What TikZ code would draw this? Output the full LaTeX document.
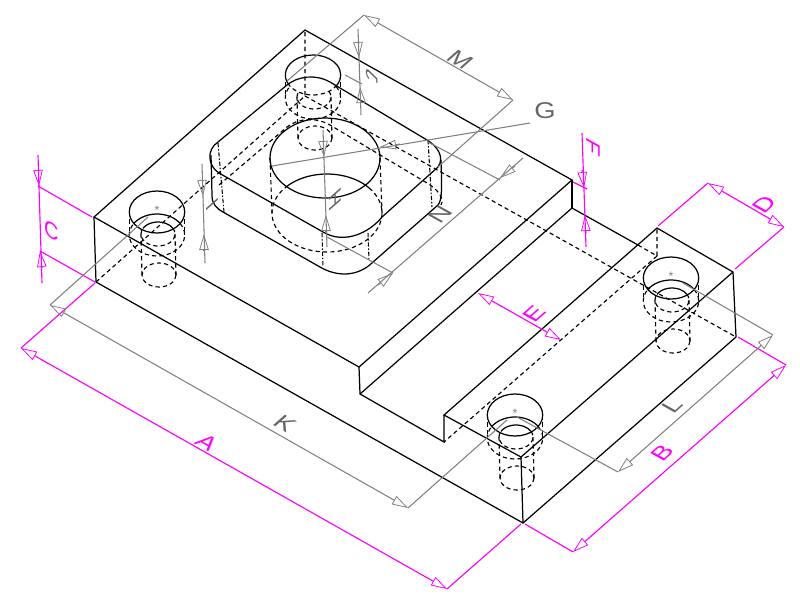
\documentclass[tikz,border=0pt]{standalone}
\usepackage{fontspec}
\setmainfont{Liberation Sans}
\usetikzlibrary{arrows.meta}
\definecolor{dimgrey}{HTML}{808080}
\definecolor{dimpink}{HTML}{FF00FF}
\definecolor{lettergrey}{HTML}{666666}
\tikzset{
  edge/.style={black,line width=0.7pt},
  hidden/.style={black,line width=0.65pt,dash pattern=on 2.4pt off 1.8pt},
  axisline/.style={black,line width=0.6pt,dash pattern=on 2.5pt off 1pt on 0.8pt off 1pt},
  tip/.tip={Triangle[open,length=3.2mm,width=1.9mm,line width=0.45pt]},
  greydim/.style={dimgrey,line width=0.6pt},
  pinkdim/.style={dimpink,line width=0.65pt},
  greyarrow/.style={greydim,-{tip}},
  pinkarrow/.style={pinkdim,-{tip}},
  greytext/.style={text=lettergrey,font=\fontsize{13}{13}\selectfont,inner sep=0pt,transform shape},
  pinktext/.style={text=dimpink,font=\fontsize{13}{13}\selectfont,inner sep=0pt,transform shape},
  planeA/.style={cm={1.0,-0.56,0.75,0.66,(0,0)}},
  planeB/.style={cm={0.85,0.75,-0.87,0.49,(0,0)}},
  planeC/.style={cm={0.87,-0.49,0,1,(0,0)}},
  planeF/.style={cm={0,-1,0.87,-0.49,(0,0)}},
  planeH/.style={cm={0,-1,0.75,0.66,(0,0)}},
  planeJ/.style={cm={0,1,0.72,-0.70,(0,0)}},
  holeshank/.pic={
    \draw[hidden] (-27.7,0) -- (-27.7,23) (27.7,0) -- (27.7,23);
    \draw[hidden] (1,22) ++(-28:17 and 12) arc[start angle=-28,end angle=208,x radius=17,y radius=12];
    \draw[hidden] (0,23) ++(-33:27.7 and 21) arc[start angle=-33,end angle=213,x radius=27.7,y radius=21];
    \draw[hidden] (-16,22) -- (-15,63) (18,22) -- (19,63);
    \draw[hidden] (2,63) ellipse[x radius=17,y radius=12];
  },
  holetop/.pic={
    \draw[edge] (0,0) ellipse[x radius=27.7,y radius=21];
    \draw[edge] (0,23) ++(-147:27.7 and 21) arc[start angle=-147,end angle=-33,x radius=27.7,y radius=21];
    \draw[edge] (1,22) ++(-152:17 and 12) arc[start angle=-152,end angle=-28,x radius=17,y radius=12];
    \node[text=dimgrey,font=\scriptsize,inner sep=0pt] at (0,-2) {*};
  }
}
\begin{document}
\begin{tikzpicture}[x=0.02cm,y=-0.02cm]
  \useasboundingbox (0,0) rectangle (800,600);

  \draw[edge] (305,30) -- (94,217) -- (359,367) -- (572,180) -- cycle;
  \draw[edge] (94,217) -- (96,282) -- (523,523) -- (736,337) -- (733,272) -- (657,228) -- (444,415) -- (521,457) -- (733,272);
  \draw[edge] (521,457) -- (523,523);
  \draw[edge] (359,367) -- (360,394) -- (444,442) -- (444,415);
  \draw[edge] (360,394) -- (572,208) -- (638,245);
  \draw[edge] (572,180) -- (572,208);
  \draw[hidden] (638,245) -- (657,256) -- (657,228);
  \draw[hidden] (657,256) -- (444,442);
  \draw[hidden] (96,282) -- (305,96) -- (305,30);
  \draw[hidden] (305,96) -- (736,337);

  \draw[edge] (218,142) -- (287,85) .. controls (298,76) and (316,74) .. (330,82) -- (427,140) .. controls (437,146) and (445,157) .. (438,167) -- (382,217) .. controls (370,232) and (345,245) .. (323,232) -- (219,173) .. controls (208,166) and (206,150) .. (218,142) -- cycle;
  \draw[edge] (211,155) -- (212,195) .. controls (212,204) and (216,208) .. (223,212) -- (320,267) .. controls (337,277) and (358,277) .. (373,262) -- (438,205) .. controls (442,200) and (442,190) .. (441,160);
  \draw[hidden] (219,185) -- (287,127) .. controls (298,118) and (316,117) .. (330,125) -- (427,183) .. controls (437,189) and (445,198) .. (441,205);
  \draw[axisline] (218,143) -- (224,212);
  \draw[axisline] (428,140) -- (432,207);
  \draw[axisline] (322,233) -- (323,267);
  \draw[axisline] (368,233) -- (369,260);

  \draw[edge] (325,158) ellipse[x radius=55,y radius=40];
  \draw[edge] (327,213) ++(-140:55 and 39) arc[start angle=-140,end angle=-40,x radius=55,y radius=39];
  \draw[hidden] (327,213) ++(-40:55 and 39) arc[start angle=-40,end angle=220,x radius=55,y radius=39];
  \draw[hidden] (270,158) -- (272,213) (380,158) -- (382,213);

  \pic at (157,212) {holeshank};
  \pic at (157,212) {holetop};
  \pic at (671,278) {holeshank};
  \pic at (671,278) {holetop};
  \pic at (515,415) {holeshank};
  \pic at (515,415) {holetop};
  \pic at (313,75) {holeshank};
  \draw[edge] (313,75) ++(150:27.7 and 20) arc[start angle=150,end angle=390,x radius=27.7,y radius=20];
  \draw[hidden] (313,75) ++(30:27.7 and 20) arc[start angle=30,end angle=150,x radius=27.7,y radius=20];

  \draw[pinkdim] (95,283) -- (21,348) (521,524) -- (447,589);
  \draw[pinkdim,{tip}-{tip}] (21,348) -- (447,589);
  \node[pinktext,planeA] (lblA) at (207,443) {A};
  \draw[pinkdim] (525,524) -- (573,552) (738,337) -- (786,365);
  \draw[pinkdim,{tip}-{tip}] (573,552) -- (786,365);
  \node[pinktext,planeB] (lblB) at (662,453) {B};
  \draw[pinkdim] (92,217) -- (38,186) (95,282) -- (40,251);
  \draw[pinkdim] (38,155) -- (42,283);
  \draw[pinkarrow] (38,170) -- (39,186);
  \draw[pinkarrow] (42,268) -- (40,251);
  \node[pinktext,planeC] (lblC) at (52,231) {C};
  \draw[pinkdim] (658,226) -- (708,183) (735,269) -- (784,227);
  \draw[pinkdim,{tip}-{tip}] (708,183) -- (784,227);
  \node[pinktext,planeB] (lblD) at (764,204) {D};
  \draw[pinkdim,{tip}-{tip}] (478,293) -- (561,340);
  \node[pinktext,planeB] (lblE) at (534,314) {E};
  \draw[pinkdim] (573,182) -- (587,189);
  \draw[pinkdim] (582,133) -- (586,247);
  \draw[pinkarrow] (582,170) -- (584,188);
  \draw[pinkarrow] (586,233) -- (585,215);
  \node[pinktext,planeF] (lblF) at (593,147) {F};

  \draw[greydim] (272,166) -- (530,123);
  \draw[greyarrow] (400,144) -- (380,147);
  \node[greytext,xscale=1.2] (lblG) at (545,111) {G};
  \draw[greydim] (323,130) -- (327,247);
  \draw[greyarrow] (323,142) -- (324,157);
  \draw[greyarrow] (326,233) -- (326,215);
  \node[greytext,planeH] (lblH) at (335,200) {H};
  \draw[greydim] (202,164) -- (205,263);
  \draw[greyarrow] (202,180) -- (203,196);
  \draw[greyarrow] (204,250) -- (204,234);
  \node[greytext,planeH] (lblI) at (212,204) {I};
  \draw[greydim] (358,29) -- (361,115);
  \draw[greyarrow] (358,43) -- (359,58);
  \draw[greyarrow] (361,102) -- (360,87);
  \draw[greydim] (345,75) -- (362,84);
  \node[greytext,planeJ] (lblJ) at (372,77) {J};
  \draw[greydim] (148,217) -- (50,305) (507,420) -- (408,508);
  \draw[greydim,{tip}-{tip}] (50,305) -- (408,508);
  \node[greytext,planeA] (lblK) at (285,424) {K};
  \draw[greydim] (683,283) -- (773,335) (517,417) -- (618,472);
  \draw[greydim,{tip}-{tip}] (773,335) -- (618,472);
  \node[greytext,planeB] (lblL) at (672,406) {L};
  \draw[greydim] (364,15) -- (287,81) (513,100) -- (438,167);
  \draw[greydim,{tip}-{tip}] (364,15) -- (513,100);
  \node[greytext,planeA] (lblM) at (460,60) {M};
  \draw[greydim] (428,142) -- (500,180) (327,237) -- (393,273);
  \draw[greydim] (523,158) -- (368,293);
  \draw[greyarrow] (515,166) -- (500,178);
  \draw[greyarrow] (378,285) -- (393,273);
  \node[greytext,planeB] (lblN) at (440,214) {N};
\end{tikzpicture}
\end{document}
